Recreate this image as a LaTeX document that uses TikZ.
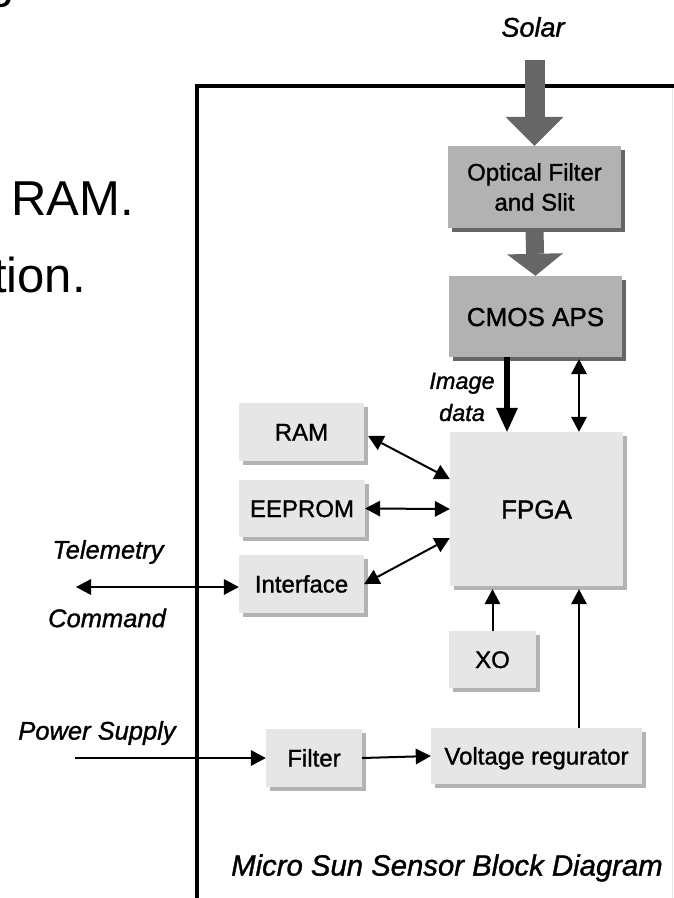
\documentclass[tikz,border=0pt]{standalone}
\usepackage{fontspec}
\setmainfont{Liberation Sans}
\newfontfamily\diagfont[FakeBold=1.2]{Liberation Sans}
\usetikzlibrary{arrows.meta,shadows}

\definecolor{boxdark}{HTML}{B2B2B2}
\definecolor{boxlight}{HTML}{E6E6E6}
\definecolor{shadedark}{HTML}{666666}
\definecolor{shadelight}{HTML}{B3B3B3}
\definecolor{beamgray}{HTML}{666666}

\begin{document}
\begin{tikzpicture}[x=1pt,y=-1pt,
    >={Triangle[width=16pt,length=15pt,line width=0pt]},
    darkblock/.style={fill=boxdark,inner sep=0pt,align=center,
      drop shadow={shadow xshift=4pt,shadow yshift=-4pt,fill=shadedark,opacity=1}},
    lightblock/.style={fill=boxlight,inner sep=0pt,align=center,
      drop shadow={shadow xshift=4pt,shadow yshift=-4pt,fill=shadelight,opacity=1}},
    blockfont/.style={font=\diagfont\fontsize{24}{30}\selectfont},
    blocktext/.style={blockfont,text height=17pt,text depth=0pt},
    bigtext/.style={font=\diagfont\fontsize{26}{30}\selectfont,text height=19pt,text depth=0pt},
    sidelabel/.style={font=\diagfont\itshape\fontsize{25.5}{32}\selectfont},
    slidetext/.style={inner sep=0pt,font=\fontsize{49}{60}\selectfont},
    link/.style={line width=2pt,<->},
    feed/.style={line width=2pt,->},
  ]
  \useasboundingbox (0,0) rectangle (673,898);
  %
  % slide text behind the figure
  \node[slidetext,anchor=base east] (slidetop) at (15,-3) {g};
  \node[slidetext,anchor=base west] (slideram) at (11,215) {RAM.};
  \node[slidetext,anchor=base east] (slidetion) at (86,292) {tion.};
  %
  % sensor frame
  \draw[line width=4pt] (197,905) -- (197,86) -- (680,86);
  \draw[gray!20,line width=1pt] (672,88) -- (672,898);
  %
  % blocks
  \node[darkblock,blockfont,minimum width=173pt,minimum height=82pt] (optic) at (534.5,187) {Optical Filter\\and Slit};
  \node[darkblock,bigtext,minimum width=173pt,minimum height=81pt] (cmos) at (535.5,316.5) {CMOS APS};
  \node[lightblock,bigtext,minimum width=173pt,minimum height=154pt] (fpga) at (536.5,509) {FPGA};
  \node[lightblock,blocktext,minimum width=125pt,minimum height=58pt] (ram) at (301.5,432) {RAM};
  \node[lightblock,blocktext,minimum width=126pt,minimum height=57pt] (eeprom) at (302,508.5) {EEPROM};
  \node[lightblock,blocktext,minimum width=125pt,minimum height=58pt] (iface) at (301.5,584) {Interface};
  \node[lightblock,blocktext,minimum width=87pt,minimum height=57pt] (xo) at (492.5,659.5) {XO};
  \node[lightblock,blocktext,minimum width=96pt,minimum height=58pt] (filter) at (314,758) {Filter};
  \node[lightblock,blocktext,minimum width=211pt,minimum height=56pt] (volt) at (536.5,756) {Voltage regurator};
  %
  % labels
  \node[font=\diagfont\itshape\fontsize{27}{32}\selectfont] (solar) at (533,27) {Solar};
  \node[align=center,font=\diagfont\itshape\fontsize{23.5}{32}\selectfont] (imgdata) at (462,397) {Image\\data};
  \node[sidelabel] (tel) at (108,552) {Telemetry};
  \node[sidelabel] (cmd) at (107,618) {Command};
  \node[sidelabel] (psu) at (97,733) {Power Supply};
  \node[font=\diagfont\itshape\fontsize{29.3}{32}\selectfont] (title) at (447,868) {Micro Sun Sensor Block Diagram};
  %
  \coordinate (sun) at (534,60);
  \coordinate (imgcol) at (507,0);
  \coordinate (ctlcol) at (579,0);
  \coordinate (ext) at (76,587);
  \coordinate (pwr) at (75,758);
  %
  % light path
  \draw[beamgray,line width=20pt,-{Triangle[width=58pt,length=29pt,line width=0pt]}] (sun -| optic.north) -- (optic.north);
  \draw[beamgray,line width=18pt,-{Triangle[width=56pt,length=22pt,line width=0pt]}] (optic.south) -- (cmos.north);
  %
  % data and control
  \draw[line width=6pt,-{Triangle[width=22pt,length=24pt,line width=0pt]}] (cmos.south -| imgcol) -- (fpga.north -| imgcol);
  \draw[link] ([yshift=-2pt]cmos.south -| ctlcol) -- (fpga.north -| ctlcol);
  \draw[link] ([shift={(4pt,-4pt)}]ram.east) -- ([yshift=30pt]fpga.west);
  \draw[link] (eeprom.east) -- (fpga.west);
  \draw[link] (iface.east) -- ([yshift=-29pt]fpga.west);
  \draw[link] (ext) -- (ext -| iface.west);
  \draw[feed] (xo.north) -- ([yshift=-3pt]fpga.south -| xo.north);
  %
  % power
  \draw[feed] (pwr) -- (pwr -| filter.west);
  \draw[feed] (filter.east) -- (volt.west);
  \draw[feed] (volt.north -| ctlcol) -- ([yshift=-3pt]fpga.south -| ctlcol);
\end{tikzpicture}
\end{document}
